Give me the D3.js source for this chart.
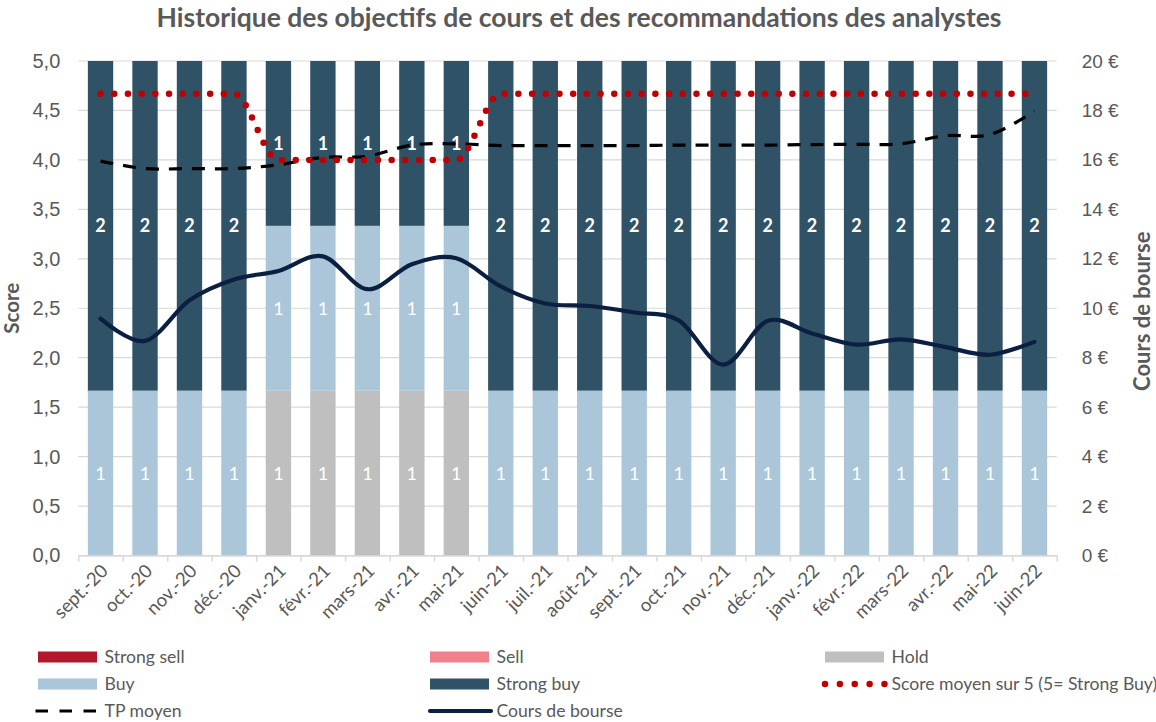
<!DOCTYPE html>
<html lang="fr">
<head>
<meta charset="UTF-8">
<title>Historique des objectifs de cours</title>
<script src="https://d3js.org/d3.v7.min.js"></script>
<style>
  body { margin: 0; background: #fff; }
  svg { display: block; font-family: Lato, "Open Sans", sans-serif; }
  .tick text { fill: #595959; }
  .grid line { stroke: #d9d9d9; stroke-width: 1.2px; }
</style>
</head>
<body>
<script>
// categories
const months = ["sept.-20", "oct.-20", "nov.-20", "déc.-20", "janv.-21", "févr.-21", "mars-21", "avr.-21",
  "mai-21", "juin-21", "juil.-21", "août-21", "sept.-21", "oct.-21", "nov.-21", "déc.-21", "janv.-22",
  "févr.-22", "mars-22", "avr.-22", "mai-22", "juin-22"];

// analyst counts per month
const strongSell = [0, 0, 0, 0, 0, 0, 0, 0, 0, 0, 0, 0, 0, 0, 0, 0, 0, 0, 0, 0, 0, 0];
const sell       = [0, 0, 0, 0, 0, 0, 0, 0, 0, 0, 0, 0, 0, 0, 0, 0, 0, 0, 0, 0, 0, 0];
const hold       = [0, 0, 0, 0, 1, 1, 1, 1, 1, 0, 0, 0, 0, 0, 0, 0, 0, 0, 0, 0, 0, 0];
const buy        = [1, 1, 1, 1, 1, 1, 1, 1, 1, 1, 1, 1, 1, 1, 1, 1, 1, 1, 1, 1, 1, 1];
const strongBuy  = [2, 2, 2, 2, 1, 1, 1, 1, 1, 2, 2, 2, 2, 2, 2, 2, 2, 2, 2, 2, 2, 2];

// score moyen (left axis)
const scoreMoyen = [4.67, 4.67, 4.67, 4.67, 4.0, 4.0, 4.0, 4.0, 4.0, 4.67, 4.67, 4.67, 4.67, 4.67, 4.67,
  4.67, 4.67, 4.67, 4.67, 4.67, 4.67, 4.67];
// TP moyen and share price in euros (right axis)
const tpMoyen = [15.95, 15.65, 15.65, 15.65, 15.8, 16.1, 16.15, 16.6, 16.65, 16.58, 16.58, 16.58, 16.58,
  16.6, 16.6, 16.6, 16.62, 16.63, 16.65, 16.98, 17.02, 17.97];
const cours = [9.58, 8.68, 10.32, 11.16, 11.51, 12.1, 10.77, 11.78, 12.02, 10.88, 10.19, 10.09, 9.83,
  9.51, 7.72, 9.49, 8.98, 8.53, 8.74, 8.43, 8.12, 8.64];

const scoreTicks = [0, 0.5, 1, 1.5, 2, 2.5, 3, 3.5, 4, 4.5, 5];
const euroTicks = [0, 2, 4, 6, 8, 10, 12, 14, 16, 18, 20];

const width = 1156, height = 722;
const margin = {top: 61, right: 99.3, bottom: 166.5, left: 78.3};
const plotW = width - margin.left - margin.right;
const plotH = height - margin.top - margin.bottom;

const series = [
  {key: "strongSell", name: "Strong sell", values: strongSell, color: "#b4172c", bold: false},
  {key: "sell", name: "Sell", values: sell, color: "#f0808b", bold: false},
  {key: "hold", name: "Hold", values: hold, color: "#bfbfbf", bold: false},
  {key: "buy", name: "Buy", values: buy, color: "#aac6d8", bold: false},
  {key: "strongBuy", name: "Strong buy", values: strongBuy, color: "#2f5266", bold: true}
];

const rows = months.map((m, i) => {
  const r = {month: m};
  series.forEach(s => r[s.key] = s.values[i]);
  return r;
});

const svg = d3.select("body").append("svg")
  .attr("width", width).attr("height", height);

const g = svg.append("g").attr("transform", `translate(${margin.left},${margin.top})`);

const x = d3.scaleBand().domain(months).range([0, plotW]).paddingInner(0.43).paddingOuter(0.215);
const y = d3.scaleLinear().domain([0, 5]).range([plotH, 0]);
const y2 = d3.scaleLinear().domain([0, 20]).range([plotH, 0]);
const cx = m => x(m) + x.bandwidth() / 2;

// gridlines
g.append("g").attr("class", "grid")
  .selectAll("line").data(scoreTicks).join("line")
  .attr("x1", 0).attr("x2", plotW)
  .attr("y1", d => y(d)).attr("y2", d => y(d));

// stacked bars, scaled to the 0-5 score range
const stack = d3.stack().keys(series.map(s => s.key)).offset(d3.stackOffsetExpand);
const layers = stack(rows);

const layerG = g.selectAll(".layer").data(layers).join("g")
  .attr("class", "layer")
  .attr("fill", (d, i) => series[i].color);

layerG.selectAll("rect").data(d => d).join("rect")
  .attr("x", d => x(d.data.month))
  .attr("width", x.bandwidth())
  .attr("y", d => y(d[1] * 5))
  .attr("height", d => y(d[0] * 5) - y(d[1] * 5));

// bar labels
layers.forEach((layer, i) => {
  const s = series[i];
  g.append("g").selectAll("text").data(layer.filter(d => d.data[s.key] > 0)).join("text")
    .attr("x", d => cx(d.data.month))
    .attr("y", d => y((d[0] + d[1]) / 2 * 5))
    .attr("dy", "0.36em")
    .attr("text-anchor", "middle")
    .attr("fill", "#fff")
    .attr("font-size", 18)
    .attr("font-weight", s.bold ? "bold" : "normal")
    .text(d => d.data[s.key]);
});

// bottom axis line with ticks between categories
const xb = d3.scaleLinear().domain([0, months.length]).range([0, plotW]);
const xAxisLine = g.append("g").attr("transform", `translate(0,${plotH})`)
  .call(d3.axisBottom(xb).tickValues(d3.range(months.length + 1)).tickFormat("").tickSizeInner(6).tickSizeOuter(0));
xAxisLine.select(".domain").attr("stroke", "#d9d9d9").attr("stroke-width", 1.5);
xAxisLine.selectAll(".tick line").attr("stroke", "#d9d9d9").attr("stroke-width", 1.5);

// month labels
g.append("g").selectAll("text").data(months).join("text")
  .attr("transform", d => `translate(${cx(d) + 4},${plotH + 12}) rotate(-45)`)
  .attr("text-anchor", "end")
  .attr("dy", "0.35em")
  .attr("fill", "#595959")
  .attr("font-size", 18.5)
  .text(d => d);

// left axis
const fmtScore = d => d3.format(".1f")(d).replace(".", ",");
const yAxisG = g.append("g")
  .call(d3.axisLeft(y).tickValues(scoreTicks).tickFormat(fmtScore).tickSize(0).tickPadding(18));
yAxisG.select(".domain").remove();
yAxisG.selectAll("text").attr("font-size", 20);

// right axis
const y2AxisG = g.append("g").attr("transform", `translate(${plotW},0)`)
  .call(d3.axisRight(y2).tickValues(euroTicks).tickFormat(d => d + "\u00a0€").tickSize(0).tickPadding(25));
y2AxisG.select(".domain").remove();
y2AxisG.selectAll("text").attr("font-size", 19);

// lines
const lineScore = d3.line().x((d, i) => cx(months[i])).y(d => y(d)).curve(d3.curveMonotoneX);
const lineEuro = d3.line().x((d, i) => cx(months[i])).y(d => y2(d)).curve(d3.curveCardinal.tension(0));

g.append("path").datum(cours)
  .attr("d", lineEuro)
  .attr("fill", "none").attr("stroke", "#0b1f40").attr("stroke-width", 4.2)
  .attr("stroke-linecap", "round");

g.append("path").datum(tpMoyen)
  .attr("d", lineEuro)
  .attr("fill", "none").attr("stroke", "#000").attr("stroke-width", 3.2)
  .attr("stroke-dasharray", "13 10");

g.append("path").datum(scoreMoyen)
  .attr("d", lineScore)
  .attr("fill", "none").attr("stroke", "#c00000").attr("stroke-width", 6.5)
  .attr("stroke-linecap", "round").attr("stroke-dasharray", "0 13.7");

// title
svg.append("text")
  .attr("x", 579).attr("y", 27)
  .attr("text-anchor", "middle")
  .attr("fill", "#595959")
  .attr("font-size", 26.5)
  .attr("font-weight", "bold")
  .text("Historique des objectifs de cours et des recommandations des analystes");

// axis titles
svg.append("text")
  .attr("transform", `translate(19,${margin.top + plotH / 2}) rotate(-90)`)
  .attr("text-anchor", "middle")
  .attr("fill", "#595959").attr("font-size", 20.5).attr("font-weight", "bold")
  .text("Score");

svg.append("text")
  .attr("transform", `translate(1150,${margin.top + plotH / 2 + 3}) rotate(-90)`)
  .attr("text-anchor", "middle")
  .attr("fill", "#595959").attr("font-size", 22).attr("font-weight", "bold")
  .text("Cours de bourse");

// legend
const legendItems = [
  {name: "Strong sell", type: "rect", color: "#b4172c"},
  {name: "Sell", type: "rect", color: "#f0808b"},
  {name: "Hold", type: "rect", color: "#bfbfbf"},
  {name: "Buy", type: "rect", color: "#aac6d8"},
  {name: "Strong buy", type: "rect", color: "#2f5266"},
  {name: "Score moyen sur 5 (5= Strong Buy)", type: "dots", color: "#c00000"},
  {name: "TP moyen", type: "dash", color: "#000"},
  {name: "Cours de bourse", type: "line", color: "#0b1f40"}
];
const colX = [38, 430, 825];
const rowY = [657, 684, 711];

const legend = svg.append("g").selectAll("g").data(legendItems).join("g")
  .attr("transform", (d, i) => `translate(${colX[i % 3]},${rowY[Math.floor(i / 3)]})`);

legend.filter(d => d.type === "rect").append("rect")
  .attr("x", 0).attr("y", -5.5).attr("width", 59).attr("height", 11)
  .attr("fill", d => d.color);
legend.filter(d => d.type === "dots").append("line")
  .attr("x1", 0).attr("x2", 59.5).attr("y1", 0).attr("y2", 0)
  .attr("stroke", d => d.color).attr("stroke-width", 6.5)
  .attr("stroke-linecap", "round").attr("stroke-dasharray", "0 14.87");
legend.filter(d => d.type === "dash").append("line")
  .attr("x1", -2.5).attr("x2", 59).attr("y1", 0).attr("y2", 0)
  .attr("stroke", d => d.color).attr("stroke-width", 3.2)
  .attr("stroke-dasharray", "12.5 11.5");
legend.filter(d => d.type === "line").append("line")
  .attr("x1", 0).attr("x2", 61).attr("y1", 0).attr("y2", 0)
  .attr("stroke", d => d.color).attr("stroke-width", 4.2)
  .attr("stroke-linecap", "round");

legend.append("text")
  .attr("x", 66.5).attr("dy", "0.35em")
  .attr("fill", "#595959").attr("font-size", 17.6)
  .text(d => d.name);
</script>
</body>
</html>
